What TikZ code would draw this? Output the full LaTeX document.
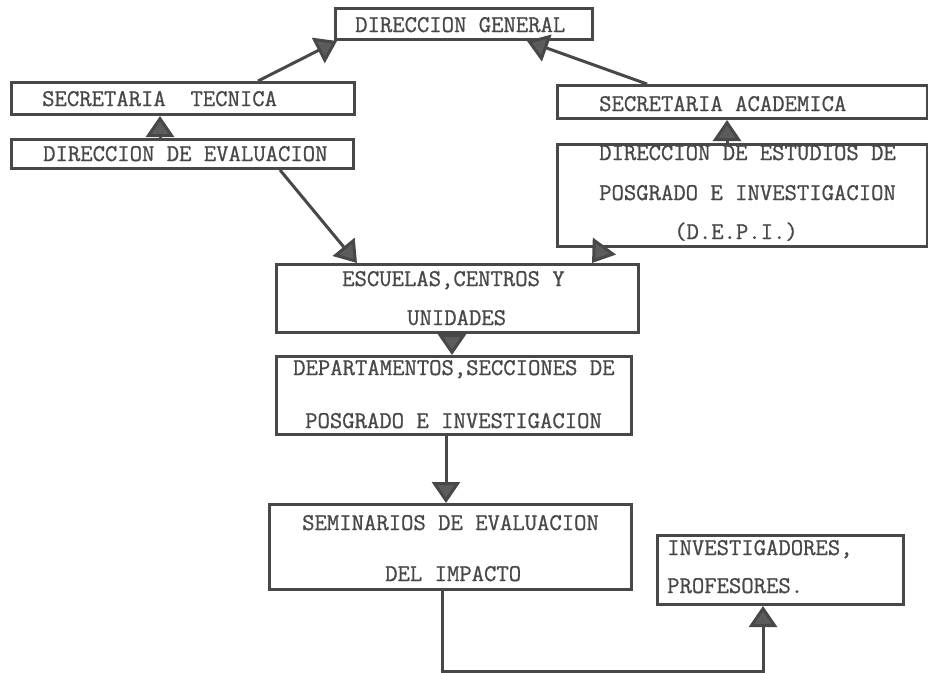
\documentclass[tikz,border=0pt]{standalone}
\usepackage{fontspec}
\newfontfamily\typewriter{Latin Modern Mono}[FakeBold=0.9]
\usetikzlibrary{arrows.meta,calc}
\definecolor{ink}{RGB}{72,72,72}
\definecolor{tipgray}{RGB}{92,92,92}
\begin{document}
\begin{tikzpicture}[x=1pt,y=-1pt,
  box/.style={draw=ink, line width=3pt, rectangle, anchor=north west, inner sep=0pt},
  lbl/.style={anchor=base west, inner sep=0pt, text=ink,
              font=\fontsize{24}{24}\selectfont\typewriter},
  conn/.style={draw=ink, line width=3pt,
               -{Triangle[width=28pt,length=21pt,fill=tipgray]}}]
\useasboundingbox[fill=white] (0,0) rectangle (928,672);

% boxes
\node[box, minimum width=257, minimum height=31]  (dg)   at (334,7)   {};
\node[box, minimum width=343, minimum height=32]  (st)   at (10,81)   {};
\node[box, minimum width=342, minimum height=29]  (de)   at (10,138)  {};
\node[box, minimum width=370, minimum height=33]  (sa)   at (556,84)  {};
\node[box, minimum width=370, minimum height=102] (depi) at (556,143) {};
\node[box, minimum width=362, minimum height=68]  (esc)  at (275,263) {};
\node[box, minimum width=355, minimum height=78]  (dep)  at (275,355) {};
\node[box, minimum width=362, minimum height=85]  (sem)  at (268,503) {};
\node[box, minimum width=246, minimum height=69]  (inv)  at (656,534) {};

% texts
\node[lbl] (tdg)   at (355,32)  {DIRECCION GENERAL};
\node[lbl] (tst)   at (42,106)  {SECRETARIA\ \ TECNICA};
\node[lbl] (tde)   at (43,161)  {DIRECCION DE EVALUACION};
\node[lbl] (tsa)   at (599,111) {SECRETARIA ACADEMICA};
\node[lbl] (tdp1)  at (599,160) {DIRECCION DE ESTUDIOS DE};
\node[lbl] (tdp2)  at (599,200) {POSGRADO E INVESTIGACION};
\node[lbl] (tdp3)  at (674,239) {(D.E.P.I.)};
\node[lbl] (tes1)  at (342,286) {ESCUELAS,CENTROS Y};
\node[lbl] (tes2)  at (407,325) {UNIDADES};
\node[lbl] (tdep1) at (293,375) {DEPARTAMENTOS,SECCIONES DE};
\node[lbl] (tdep2) at (305,428) {POSGRADO E INVESTIGACION};
\node[lbl] (tsem1) at (302,530) {SEMINARIOS DE EVALUACION};
\node[lbl] (tsem2) at (385,581) {DEL IMPACTO};
\node[lbl] (tinv1) at (667,555) {INVESTIGADORES,};
\node[lbl] (tinv2) at (667,593) {PROFESORES.};

% connectors
\draw[conn] ([xshift=248pt]st.north west) -- ([xshift=3pt]dg.south west);
\draw[conn] ([xshift=91pt]sa.north west) -- ([xshift=193pt]dg.south west);
\draw[conn] ([xshift=150pt]de.north west) -- ([xshift=150pt]st.south west);
\draw[conn] ([xshift=171pt]depi.north west) -- ([xshift=171pt]sa.south west);
\draw[conn] ([xshift=-75pt]de.south east) -- ([xshift=82pt]esc.north west);
\draw[conn] ([xshift=47pt]depi.south west) -- ([xshift=-48pt]esc.north east);
\draw[conn] ([xshift=177pt]esc.south west) -- ([xshift=177pt]dep.north west);
\draw[conn] ([xshift=171pt]dep.south west) -- ([xshift=178pt]sem.north west);
\draw[conn] ([xshift=174pt]sem.south west) -- ++(0,80) -| ([xshift=107pt]inv.south west);
\end{tikzpicture}
\end{document}
